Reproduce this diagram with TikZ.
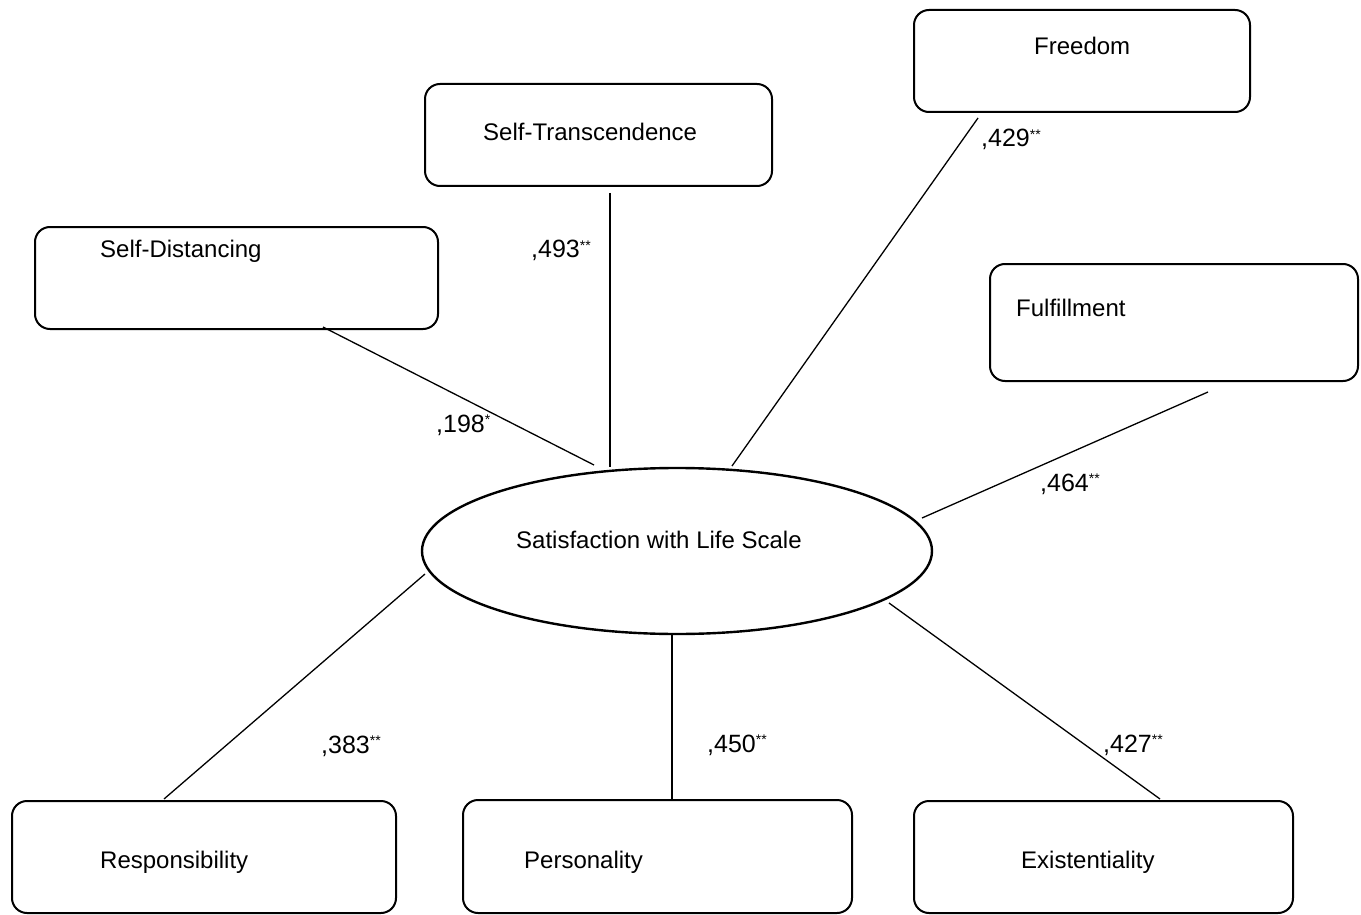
\documentclass[tikz,border=0pt]{standalone}
\usepackage{fontspec}
\setmainfont{Liberation Sans}
\usetikzlibrary{shapes.geometric}
\begin{document}
\begin{tikzpicture}[x=1pt,y=-1pt,
  boxshape/.style={draw,line width=2pt,rounded corners=15pt,inner sep=0pt},
  txt/.style={anchor=base west,inner sep=0pt,font=\fontsize{24}{28}\selectfont},
  lbl/.style={anchor=base west,inner sep=0pt,font=\fontsize{25}{28}\selectfont},
  conn/.style={line width=1.3pt}]
\useasboundingbox[fill=white] (0,0) rectangle (1361,915);
% boxes
\draw[boxshape] (914,10) rectangle (1250,112);
\draw[boxshape] (425,84) rectangle (772,186);
\draw[boxshape] (35,227) rectangle (438,329);
\draw[boxshape] (990,264) rectangle (1358,381);
\draw[boxshape] (12,801) rectangle (396,913);
\draw[boxshape] (463,800) rectangle (852,913);
\draw[boxshape] (914,801) rectangle (1293,913);
% ellipse
\node[draw,ellipse,line width=2.4pt,minimum width=510pt,minimum height=166pt,inner sep=0pt] (swl) at (677,551) {};
% texts
\node[txt] (tFreedom) at (1034,55) {Freedom};
\node[txt] (tST) at (483,141) {Self-Transcendence};
\node[txt] (tSD) at (100,257) {Self-Distancing};
\node[txt] (tFul) at (1016,316) {Fulfillment};
\node[txt] (tSWL) at (516,548) {Satisfaction with Life Scale};
\node[txt] (tResp) at (100,868) {Responsibility};
\node[txt] (tPers) at (524,868) {Personality};
\node[txt] (tExist) at (1021,868) {Existentiality};
% connector ends
\coordinate (sd1) at (323,327); \coordinate (sd2) at (594,465);
\coordinate (st1) at (610,193); \coordinate (st2) at (610,467);
\coordinate (fr1) at (978,118); \coordinate (fr2) at (732,466);
\coordinate (fu1) at (1208,392); \coordinate (fu2) at (922,518);
\coordinate (re1) at (425,574); \coordinate (re2) at (164,799);
\coordinate (pe1) at (672,634); \coordinate (pe2) at (672,799);
\coordinate (ex1) at (889,603); \coordinate (ex2) at (1160,799);
\draw[conn] (sd1) -- (sd2);
\draw[conn] (st1) -- (st2);
\draw[conn] (fr1) -- (fr2);
\draw[conn] (fu1) -- (fu2);
\draw[conn] (re1) -- (re2);
\draw[conn] (pe1) -- (pe2);
\draw[conn] (ex1) -- (ex2);
% labels
\newcommand{\stars}[1]{\raisebox{7.5pt}{\fontsize{14}{14}\selectfont #1}}
\node[lbl] (l198) at (436,432) {,198\stars{*}};
\node[lbl] (l493) at (531,258) {,493\stars{**}};
\node[lbl] (l429) at (981,147) {,429\stars{**}};
\node[lbl] (l464) at (1040,491) {,464\stars{**}};
\node[lbl] (l383) at (321,753) {,383\stars{**}};
\node[lbl] (l450) at (707,752) {,450\stars{**}};
\node[lbl] (l427) at (1103,752) {,427\stars{**}};
\end{tikzpicture}
\end{document}
